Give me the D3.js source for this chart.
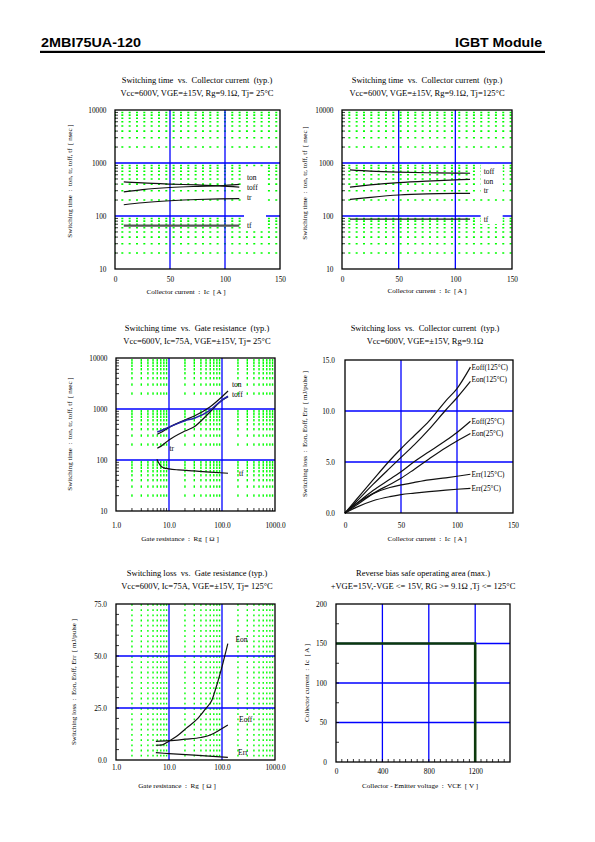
<!DOCTYPE html>
<html><head><meta charset="utf-8">
<script src="https://cdn.jsdelivr.net/npm/d3@7"></script>
<style>
body{margin:0;background:#fff}
svg text{font-family:"Liberation Serif","Times New Roman",serif;white-space:pre}
</style>
</head><body>
<svg id="c" width="595" height="842"></svg>
<script>
// ---------- DATA ----------
// Panel 1: Switching time vs Ic, Tj=25
const p1Ic   = [8, 25, 50, 75, 95, 113];
const p1Ton  = [285, 315, 345, 362, 372, 395];
const p1Toff = [440, 420, 400, 385, 370, 350];
const p1Tr   = [163, 178, 194, 205, 210, 212];
const p1Tf   = [66, 66, 66, 66, 66, 66];
const p1LabelText = ["ton", "toff", "tr", "tf"];
const p1LabelX = [120, 120, 120, 120];
const p1LabelY = [537, 352, 221, 67.6];
// Panel 2: Switching time vs Ic, Tj=125
const p2Ic   = [7, 25, 50, 75, 100, 113];
const p2Toff = [740, 700, 670, 655, 645, 640];
const p2Ton  = [352, 385, 425, 455, 480, 492];
const p2Tr   = [206, 225, 249, 262, 267, 268];
const p2Tf   = [87, 87, 87, 87, 87, 87];
const p2LabelText = ["toff", "ton", "tr", "tf"];
const p2LabelX = [125, 125, 125, 125];
const p2LabelY = [686, 444, 300, 87];
// Panel 3: Switching time vs Rg
const p3Rg   = [6, 7, 10, 20, 30, 60, 100, 130];
const p3Ton  = [320, 345, 435, 610, 729, 1109, 1740, 2250];
const p3Toff = [355, 375, 440, 590, 660, 955, 1500, 1780];
const p3Tr   = [170, 185, 247, 370, 450, 885, 1480, 1750];
const p3RgTf = [5.9, 6.3, 7, 8, 10, 15, 30, 60, 130];
const p3Tf   = [103, 90, 76, 70, 67, 64, 61, 58, 55];
const p3LabelText = ["ton", "toff", "tr", "tf"];
const p3LabelX = [154, 154, 10.2, 209];
const p3LabelY = [3050, 1940, 170, 55];
// Panel 4: Switching loss vs Ic
const p4Ic      = [0, 10, 25, 40, 50, 62, 75, 90, 100, 112];
const p4Eoff125 = [0, 1.3, 3.25, 5.15, 6.3, 7.6, 9.0, 11.0, 12.2, 14.3];
const p4Eon125  = [0, 1.1, 2.8, 4.4, 5.45, 6.7, 8.2, 10.1, 11.3, 12.9];
const p4Eoff25  = [0, 0.9, 2.2, 3.3, 4.05, 5.05, 6.0, 7.1, 7.9, 9.0];
const p4Eon25   = [0, 0.75, 1.9, 2.8, 3.4, 4.3, 5.3, 6.4, 7.06, 7.8];
const p4Err125  = [0, 0.9, 1.9, 2.5, 2.75, 3.0, 3.25, 3.45, 3.6, 3.8];
const p4Err25   = [0, 0.55, 1.2, 1.6, 1.8, 1.95, 2.1, 2.25, 2.33, 2.42];
const p4LabelText = ["Eoff(125°C)", "Eon(125°C)", "Eoff(25°C)", "Eon(25°C)", "Err(125°C)", "Err(25°C)"];
const p4LabelX = [113, 113, 113, 113, 113, 113];
const p4LabelY = [14.28, 13.14, 8.95, 7.77, 3.79, 2.42];
// Panel 5: Switching loss vs Rg
const p5RgEon  = [5.65, 7.5, 9.6, 15, 21, 35, 50, 65, 78, 104, 129];
const p5Eon    = [7.1, 7.3, 8.8, 12, 15.2, 20, 24.9, 29, 35.2, 46.5, 56];
const p5RgEoff = [5.65, 10, 20, 40, 60, 90, 129];
const p5Eoff   = [9.0, 9.3, 10.0, 10.8, 12.0, 14.4, 16.8];
const p5RgErr  = [5.65, 10, 30, 129];
const p5Err    = [3.5, 3.1, 2.3, 1.3];
const p5LabelText = ["Eon", "Eoff", "Err"];
const p5LabelX = [180, 210, 201];
const p5LabelY = [58.2, 19.6, 3.7];
// Panel 6: RBSOA
const p6Vce = [0, 1200, 1200];
const p6Ic  = [150, 150, 0];

// ticks
const icTicks = [0, 50, 100, 150];
const icTickLabels = ["0", "50", "100", "150"];
const nsTicks = [10, 100, 1000, 10000];
const nsTickLabels = ["10", "100", "1000", "10000"];
const rgTicks = [1, 10, 100, 1000];
const rgTickLabels = ["1.0", "10.0", "100.0", "1000.0"];
const e4Ticks = [0, 5, 10, 15];
const e4TickLabels = ["0.0", "5.0", "10.0", "15.0"];
const e5Ticks = [0, 25, 50, 75];
const e5TickLabels = ["0.0", "25.0", "50.0", "75.0"];
const vceTicks = [0, 400, 800, 1200];
const vceTickLabels = ["0", "400", "800", "1200"];
const rbIcTicks = [0, 50, 100, 150, 200];
const rbIcTickLabels = ["0", "50", "100", "150", "200"];

// ---------- DRAWING ----------
const svg = d3.select("#c");
svg.append("rect").attr("width", 595).attr("height", 842).attr("fill", "#fff");

// header
svg.append("text").attr("x", 41).attr("y", 46.5)
  .style("font-family", "'Liberation Sans', Arial, sans-serif").style("font-weight", "bold")
  .attr("font-size", 13).attr("textLength", 100).attr("lengthAdjust", "spacingAndGlyphs")
  .text("2MBI75UA-120");
svg.append("text").attr("x", 542).attr("y", 46.5).attr("text-anchor", "end")
  .style("font-family", "'Liberation Sans', Arial, sans-serif").style("font-weight", "bold")
  .attr("font-size", 13).attr("textLength", 87).attr("lengthAdjust", "spacingAndGlyphs")
  .text("IGBT Module");
svg.append("rect").attr("x", 40).attr("y", 50.8).attr("width", 505).attr("height", 2.2).attr("fill", "#000");

const BLUE = "#0000ff", GREEN = "#00ff00";

function logMinor(d0, d1) {
  const out = [];
  for (let e = Math.floor(Math.log10(d0)); e < Math.ceil(Math.log10(d1)); e++)
    for (let m = 2; m <= 9; m++) { const v = m * Math.pow(10, e); if (v > d0 && v < d1) out.push(v); }
  return out;
}
function linSteps(d0, d1, s) { return d3.range(d0 + s, d1, s); }

function panel(c) {
  const g = svg.append("g");
  const x = (c.xlog ? d3.scaleLog() : d3.scaleLinear()).domain(c.xd).range(c.xr);
  const y = (c.ylog ? d3.scaleLog() : d3.scaleLinear()).domain(c.yd).range(c.yr);
  const L = c.xr[0], R = c.xr[1], T = c.yr[1], B = c.yr[0];

  // green dotted grid
  if (c.greenRows) {
    g.append("g").selectAll("line").data(c.greenRows).join("line")
      .attr("x1", L).attr("x2", R).attr("y1", d => y(d)).attr("y2", d => y(d))
      .attr("stroke", GREEN).attr("stroke-width", 1.6).attr("stroke-dasharray", "2,5.33").attr("stroke-dashoffset", 1);
  }
  if (c.greenCols) {
    g.append("g").selectAll("line").data(c.greenCols).join("line")
      .attr("x1", d => x(d)).attr("x2", d => x(d)).attr("y1", T).attr("y2", B)
      .attr("stroke", GREEN).attr("stroke-width", 1.4).attr("stroke-dasharray", "1.8,3.4").attr("stroke-dashoffset", 0);
  }
  if (c.greenDots) {
    const pts = [];
    c.greenDots[0].forEach(a => c.greenDots[1].forEach(b => pts.push([a, b])));
    g.append("g").selectAll("rect").data(pts).join("rect")
      .attr("x", d => x(d[0]) - 0.7).attr("y", d => y(d[1]) - 1.3)
      .attr("width", 1.4).attr("height", 2.4).attr("fill", GREEN);
  }
  // blue grid
  g.append("g").selectAll("line").data(c.blueX).join("line")
    .attr("x1", d => x(d)).attr("x2", d => x(d)).attr("y1", T).attr("y2", B)
    .attr("stroke", BLUE).attr("stroke-width", 1.3);
  g.append("g").selectAll("line").data(c.blueY).join("line")
    .attr("x1", L).attr("x2", R).attr("y1", d => y(d)).attr("y2", d => y(d))
    .attr("stroke", BLUE).attr("stroke-width", 1.3);

  // label white boxes
  if (c.boxTop) {
    g.append("g").selectAll("rect").data(c.labels.text).join("rect")
      .attr("x", (d, i) => x(c.labels.x[i]) - 3).attr("y", (d, i) => y(c.labels.y[i]) - c.boxTop)
      .attr("width", 22).attr("height", c.boxTop + 5).attr("fill", "#fff");
  }

  // minor ticks
  if (c.minorY) {
    g.append("g").selectAll("line").data(c.minorY).join("line")
      .attr("x1", L).attr("x2", L + 3).attr("y1", d => y(d)).attr("y2", d => y(d))
      .attr("stroke", "#000").attr("stroke-width", 0.8);
  }
  if (c.minorX) {
    g.append("g").selectAll("line").data(c.minorX).join("line")
      .attr("x1", d => x(d)).attr("x2", d => x(d)).attr("y1", B).attr("y2", B - 3)
      .attr("stroke", "#000").attr("stroke-width", 0.8);
  }

  // curves
  const line = d3.line().x(d => x(d[0])).y(d => y(d[1])).curve(d3.curveMonotoneX);
  c.series.forEach(s => {
    const pts = s.x.map((v, i) => [v, s.y[i]]);
    g.append("path").attr("d", s.linear ? d3.line().x(d => x(d[0])).y(d => y(d[1]))(pts) : line(pts))
      .attr("fill", "none").attr("stroke", s.color || "#111").attr("stroke-width", s.w || 1.2)
      .attr("stroke-linejoin", "miter");
  });

  // frame
  g.append("rect").attr("x", L).attr("y", T).attr("width", R - L).attr("height", B - T)
    .attr("fill", "none").attr("stroke", "#000").attr("stroke-width", 1.3);

  // curve labels
  if (c.labels) {
    g.append("g").selectAll("text").data(c.labels.text).join("text")
      .attr("x", (d, i) => x(c.labels.x[i])).attr("y", (d, i) => y(c.labels.y[i]))
      .attr("dy", "0.35em").attr("font-size", c.labelSize || 7.5).text(d => d);
  }

  // axes tick labels
  const ax = g.append("g").attr("transform", `translate(0,${B})`)
    .call(d3.axisBottom(x).tickValues(c.xTicks).tickFormat((d, i) => c.xTickLabels[i]).tickSize(0).tickPadding(c.xPad));
  ax.select(".domain").remove();
  ax.attr("font-size", 7.3);
  const ay = g.append("g").attr("transform", `translate(${L},0)`)
    .call(d3.axisLeft(y).tickValues(c.yTicks).tickFormat((d, i) => c.yTickLabels[i]).tickSize(0).tickPadding(c.yPad));
  ay.select(".domain").remove();
  ay.attr("font-size", 7.3);

  // titles
  g.append("text").attr("x", c.titleX).attr("y", c.titleY).attr("text-anchor", "middle")
    .attr("font-size", 8.5).text(c.title1);
  g.append("text").attr("x", c.titleX).attr("y", c.titleY + 13).attr("text-anchor", "middle")
    .attr("font-size", 8.5).text(c.title2);
  g.append("text").attr("x", c.xLabelPos[0]).attr("y", c.xLabelPos[1]).attr("text-anchor", "middle")
    .attr("font-size", 7.1).text(c.xLabel);
  g.append("text").attr("transform", `translate(${c.yLabelPos[0]},${c.yLabelPos[1]}) rotate(-90)`)
    .attr("text-anchor", "middle").attr("font-size", 7).text(c.yLabel);
}

const timeRows = logMinor(10, 10000);

panel({
  xd: [0, 150], xr: [115, 280], yd: [10, 10000], yr: [269, 110], ylog: true,
  greenRows: timeRows, blueX: [50, 100], blueY: [100, 1000], minorY: timeRows,
  boxTop: 10.5,
  series: [
    { x: p1Ic, y: p1Toff }, { x: p1Ic, y: p1Ton }, { x: p1Ic, y: p1Tr },
    { x: p1Ic, y: p1Tf, color: "#555", w: 2.2 }
  ],
  labels: { text: p1LabelText, x: p1LabelX, y: p1LabelY },
  xTicks: icTicks, xTickLabels: icTickLabels, xPad: 8.3,
  yTicks: nsTicks, yTickLabels: nsTickLabels, yPad: 8.5,
  titleX: 197, titleY: 83,
  title1: "Switching time  vs.  Collector current  (typ.)",
  title2: "Vcc=600V, VGE=±15V, Rg=9.1Ω, Tj= 25°C",
  xLabel: "Collector current  :  Ic  [ A ]", xLabelPos: [186, 293.5],
  yLabel: "Switching time  :  ton, tr, toff, tf  [ nsec ]", yLabelPos: [71.5, 181]
});

panel({
  xd: [0, 150], xr: [342, 512], yd: [10, 10000], yr: [269, 110], ylog: true,
  greenRows: timeRows, blueX: [50, 100], blueY: [100, 1000], minorY: timeRows,
  boxTop: 7.5,
  series: [
    { x: p2Ic, y: p2Toff }, { x: p2Ic, y: p2Ton }, { x: p2Ic, y: p2Tr }, { x: p2Ic, y: p2Tf }
  ],
  labels: { text: p2LabelText, x: p2LabelX, y: p2LabelY },
  xTicks: icTicks, xTickLabels: icTickLabels, xPad: 8.3,
  yTicks: nsTicks, yTickLabels: nsTickLabels, yPad: 8.5,
  titleX: 427, titleY: 83,
  title1: "Switching time  vs.  Collector current  (typ.)",
  title2: "Vcc=600V, VGE=±15V, Rg=9.1Ω, Tj=125°C",
  xLabel: "Collector current  :  Ic  [ A ]", xLabelPos: [427, 293],
  yLabel: "Switching time  :  ton, tr, toff, tf  [ nsec ]", yLabelPos: [306.5, 183]
});

panel({
  xd: [1, 1000], xr: [116, 275], xlog: true, yd: [10, 10000], yr: [511, 358], ylog: true,
  greenDots: [logMinor(1, 1000), logMinor(10, 10000)],
  blueX: [10, 100], blueY: [100, 1000], minorY: logMinor(10, 10000), minorX: logMinor(1, 1000),
  series: [
    { x: p3Rg, y: p3Ton }, { x: p3Rg, y: p3Tr }, { x: p3Rg, y: p3Toff, color: "#2323a8", w: 1.5 },
    { x: p3RgTf, y: p3Tf }
  ],
  labels: { text: p3LabelText, x: p3LabelX, y: p3LabelY },
  xTicks: rgTicks, xTickLabels: rgTickLabels, xPad: 12.3,
  yTicks: nsTicks, yTickLabels: nsTickLabels, yPad: 8.5,
  titleX: 197, titleY: 330.5,
  title1: "Switching time  vs.  Gate resistance  (typ.)",
  title2: "Vcc=600V, Ic=75A, VGE=±15V, Tj= 25°C",
  xLabel: "Gate resistance  :  Rg  [ Ω ]", xLabelPos: [180, 541],
  yLabel: "Switching time  :  ton, tr, toff, tf  [ nsec ]", yLabelPos: [71.5, 434]
});

panel({
  xd: [0, 150], xr: [345, 513], yd: [0, 15], yr: [513, 360],
  blueX: [50, 100], blueY: [5, 10],
  series: [
    { x: p4Ic, y: p4Eoff125 }, { x: p4Ic, y: p4Eon125 }, { x: p4Ic, y: p4Eoff25 },
    { x: p4Ic, y: p4Eon25 }, { x: p4Ic, y: p4Err125 }, { x: p4Ic, y: p4Err25 }
  ],
  labels: { text: p4LabelText, x: p4LabelX, y: p4LabelY }, labelSize: 7.3,
  xTicks: icTicks, xTickLabels: icTickLabels, xPad: 10,
  yTicks: e4Ticks, yTickLabels: e4TickLabels, yPad: 10,
  titleX: 425, titleY: 330.5,
  title1: "Switching loss  vs.  Collector current  (typ.)",
  title2: "Vcc=600V, VGE=±15V, Rg=9.1Ω",
  xLabel: "Collector current  :  Ic  [ A ]", xLabelPos: [427, 541],
  yLabel: "Switching loss  :  Eon, Eoff, Err  [ mJ/pulse ]", yLabelPos: [306.5, 434]
});

panel({
  xd: [1, 1000], xr: [116, 275], xlog: true, yd: [0, 75], yr: [760, 604],
  greenCols: logMinor(1, 1000),
  blueX: [10, 100], blueY: [25, 50], minorY: linSteps(0, 75, 5),
  series: [
    { x: p5RgEon, y: p5Eon }, { x: p5RgEoff, y: p5Eoff }, { x: p5RgErr, y: p5Err }
  ],
  labels: { text: p5LabelText, x: p5LabelX, y: p5LabelY },
  xTicks: rgTicks, xTickLabels: rgTickLabels, xPad: 4.5,
  yTicks: e5Ticks, yTickLabels: e5TickLabels, yPad: 9,
  titleX: 197, titleY: 575.5,
  title1: "Switching loss  vs.  Gate resistance (typ.)",
  title2: "Vcc=600V, Ic=75A, VGE=±15V, Tj= 125°C",
  xLabel: "Gate resistance  :  Rg  [ Ω ]", xLabelPos: [177, 787.5],
  yLabel: "Switching loss  :  Eon, Eoff, Err  [ mJ/pulse ]", yLabelPos: [75.5, 682]
});

panel({
  xd: [0, 1500], xr: [336, 510], yd: [0, 200], yr: [762, 604],
  blueX: [400, 800, 1200], blueY: [50, 100, 150],
  minorY: linSteps(0, 200, 25), minorX: linSteps(0, 1500, 50),
  series: [{ x: p6Vce, y: p6Ic, color: "#0c3a0c", w: 2.6, linear: true }],
  xTicks: vceTicks, xTickLabels: vceTickLabels, xPad: 7.3,
  yTicks: rbIcTicks, yTickLabels: rbIcTickLabels, yPad: 9,
  titleX: 423, titleY: 575.5,
  title1: "Reverse bias safe operating area (max.)",
  title2: "+VGE=15V,-VGE <= 15V, RG >= 9.1Ω ,Tj <= 125°C",
  xLabel: "Collector - Emitter voltage  :  VCE  [ V ]", xLabelPos: [420, 788],
  yLabel: "Collector current  :  Ic  [ A ]", yLabelPos: [309, 683]
});
</script>
</body></html>
